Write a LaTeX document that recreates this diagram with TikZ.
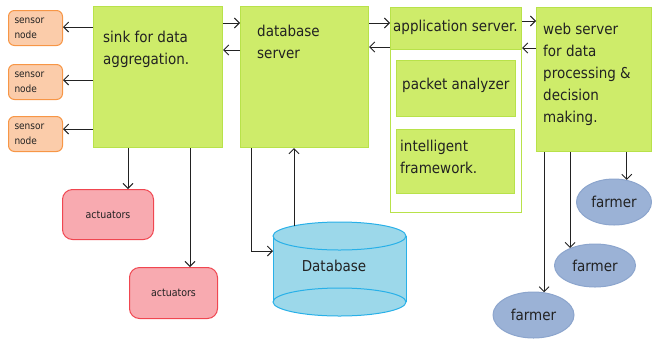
\documentclass[tikz,border=0pt]{standalone}
\usepackage{fontspec}
\setmainfont{DejaVu Sans Condensed}
\usetikzlibrary{arrows.meta,shapes.geometric}

\definecolor{boxgreen}{RGB}{206,236,106}
\definecolor{boxgreenedge}{RGB}{184,226,74}
\definecolor{sensorfill}{RGB}{251,204,170}
\definecolor{sensoredge}{RGB}{247,150,70}
\definecolor{actfill}{RGB}{248,170,176}
\definecolor{actedge}{RGB}{240,70,80}
\definecolor{dbfill}{RGB}{156,216,234}
\definecolor{dbedge}{RGB}{40,176,232}
\definecolor{farmfill}{RGB}{155,178,214}
\definecolor{farmedge}{RGB}{140,165,205}
\definecolor{ink}{RGB}{34,34,34}

\tikzset{
  block/.style={draw=boxgreenedge, fill=boxgreen, line width=1.2pt,
    anchor=north west, inner sep=0pt},
  panel/.style={draw=boxgreenedge, fill=white, line width=1.4pt,
    anchor=north west, inner sep=0pt},
  sensorbox/.style={draw=sensoredge, fill=sensorfill, rounded corners=6pt,
    line width=1pt, minimum width=54pt, minimum height=35pt,
    text width=42pt, align=left, inner sep=0pt, anchor=north west,
    font=\fontsize{10}{15}\selectfont, text=ink},
  actbox/.style={draw=actedge, fill=actfill, rounded corners=10pt,
    line width=1pt, inner sep=0pt, anchor=north west,
    font=\fontsize{10.5}{12}\selectfont, text=ink},
  farmer/.style={ellipse, draw=farmedge, fill=farmfill, line width=1pt,
    inner sep=0pt, font=\fontsize{15}{18}\selectfont, text=ink},
  bigtext/.style={font=\fontsize{15}{22}\selectfont, align=left,
    inner sep=0pt, text=ink},
  conn/.style={-{Straight Barb[length=5pt,width=10pt]}, line width=0.9pt, ink},
}

\begin{document}
\begin{tikzpicture}[x=1pt,y=-1pt]
\useasboundingbox (0,0) rectangle (652,338);

% main processing blocks
\node[block, minimum width=129pt, minimum height=141pt] (sink) at (93,6) {};
\node[bigtext, anchor=north west] (sinklabel) at (103,30.5) {sink for data\\aggregation.};

\node[block, minimum width=128pt, minimum height=141pt] (dbs) at (240,6) {};
\node[bigtext, anchor=north west] (dbslabel) at (257,24.5) {database\\server};

\node[panel, minimum width=131pt, minimum height=205pt] (apppanel) at (390,7) {};
\node[block, minimum width=131pt, minimum height=42pt] (app) at (390,7) {};
\node[bigtext, anchor=base west] (applabel) at (393,31) {application server.};
\node[block, minimum width=119pt, minimum height=56pt] (pkt) at (396,60) {};
\node[bigtext, anchor=base west] (pktlabel) at (402,89) {packet analyzer};
\node[block, minimum width=118pt, minimum height=64pt] (intel) at (396,129) {};
\node[bigtext, anchor=north west] (intellabel) at (400,140) {intelligent\\framework.};

\node[block, minimum width=115pt, minimum height=144pt] (web) at (536,7) {};
\node[bigtext, anchor=north west] (weblabel) at (543,23)
  {web server\\for data\\processing \&\\decision\\making.};

% sensor nodes
\node[sensorbox] (s1) at (8,10) {sensor\\node};
\node[sensorbox] (s2) at (8,64) {sensor\\node};
\node[sensorbox] (s3) at (8,116) {sensor\\node};

% actuators
\node[actbox, minimum width=91pt, minimum height=50pt] (act1) at (62,189) {actuators};
\node[actbox, minimum width=88pt, minimum height=51pt] (act2) at (129,267) {actuators};

% database cylinder
\fill[dbfill] (273,236) rectangle (406,302);
\node[ellipse, draw=dbedge, fill=dbfill, line width=1pt, inner sep=0pt,
  minimum width=133pt, minimum height=28pt] (dbbase) at (339.5,302) {};
\draw[dbedge, line width=1pt] (273,236) -- (273,302) (406,236) -- (406,302);
\node[ellipse, draw=dbedge, fill=dbfill, line width=1pt, inner sep=0pt,
  minimum width=133pt, minimum height=28pt] (dbcap) at (339.5,236) {};
\node[inner sep=0pt, minimum width=133pt, minimum height=94pt,
  anchor=north west] (db) at (273,222) {};
\node[font=\fontsize{15}{18}\selectfont, text=ink] (dblabel) at (334,266) {Database};
\coordinate (dbtop) at (294,226);

% farmers
\node[farmer, minimum width=75pt, minimum height=46pt] (f1) at (614,202) {farmer};
\node[farmer, minimum width=81pt, minimum height=43pt] (f2) at (595,265.5) {farmer};
\node[farmer, minimum width=81pt, minimum height=46pt] (f3) at (533.5,315) {farmer};

% connectors
\draw[conn] (sink.west |- 0,27) -- (s1.east |- 0,27);
\draw[conn] (sink.west |- 0,80) -- (s2.east |- 0,80);
\draw[conn] (sink.west |- 0,129) -- (s3.east |- 0,129);

\draw[conn] (sink.east |- 0,23) -- (dbs.west |- 0,23);
\draw[conn] (dbs.west |- 0,50) -- (sink.east |- 0,50);
\draw[conn] (dbs.east |- 0,23) -- (app.west |- 0,23);
\draw[conn] (app.west |- 0,47) -- (dbs.east |- 0,47);
\draw[conn] (app.east |- 0,21) -- (web.west |- 0,21);
\draw[conn] (web.west |- 0,48) -- (app.east |- 0,48);

\draw[conn] (sink.south -| 128,0) -- (act1.north -| 128,0);
\draw[conn] (sink.south -| 190,0) -- (act2.north -| 190,0);

\draw[conn] (dbs.south -| 251,0) |- (db.west |- 0,251);
\draw[conn] (dbtop) -- (dbs.south -| dbtop);

\draw[conn] (web.south -| f1.60) -- (f1.60);
\draw[conn] (web.south -| f2.145) -- (f2.145);
\draw[conn] (web.south -| f3.65) -- (f3.65);
\end{tikzpicture}
\end{document}
